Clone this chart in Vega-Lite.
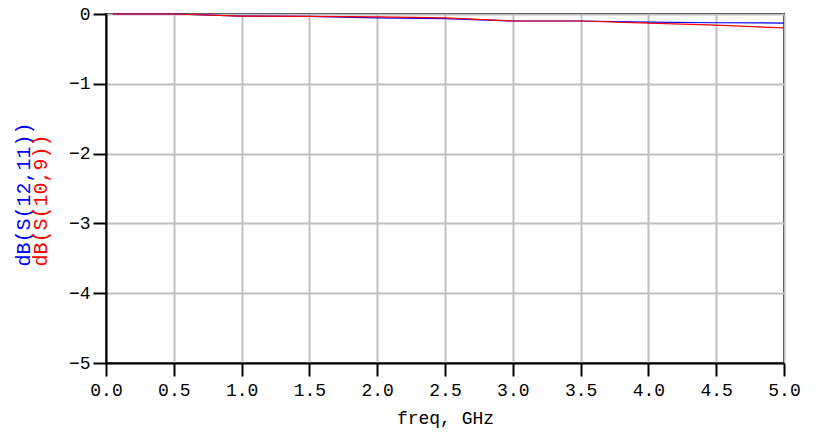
{
  "$schema": "https://vega.github.io/schema/vega-lite/v6.json",
  "autosize": "none",
  "width": 678,
  "height": 349,
  "padding": {"left": 106, "top": 14, "right": 37, "bottom": 76},
  "background": "white",
  "config": {
    "view": {"stroke": "#000000", "strokeWidth": 2},
    "font": "Liberation Mono",
    "axis": {
      "labelFont": "Liberation Mono",
      "titleFont": "Liberation Mono",
      "labelFontSize": 18,
      "titleFontSize": 18,
      "labelColor": "#000000",
      "titleColor": "#000000",
      "titleFontWeight": "normal",
      "labelFlush": false,
      "domainColor": "#000000",
      "domainWidth": 2,
      "tickColor": "#000000",
      "tickWidth": 2,
      "tickSize": 13,
      "gridColor": "#c0c0c0",
      "gridWidth": 2,
      "gridOpacity": 1
    }
  },
  "data": {
    "values": [
      {"freq": 0.05, "db": 0.0, "trace": "dB(S(12,11))"},
      {"freq": 0.5, "db": 0.0, "trace": "dB(S(12,11))"},
      {"freq": 1.0, "db": -0.03, "trace": "dB(S(12,11))"},
      {"freq": 1.5, "db": -0.035, "trace": "dB(S(12,11))"},
      {"freq": 2.0, "db": -0.055, "trace": "dB(S(12,11))"},
      {"freq": 2.5, "db": -0.065, "trace": "dB(S(12,11))"},
      {"freq": 3.0, "db": -0.1, "trace": "dB(S(12,11))"},
      {"freq": 3.5, "db": -0.1, "trace": "dB(S(12,11))"},
      {"freq": 4.0, "db": -0.115, "trace": "dB(S(12,11))"},
      {"freq": 4.5, "db": -0.125, "trace": "dB(S(12,11))"},
      {"freq": 5.0, "db": -0.13, "trace": "dB(S(12,11))"},
      {"freq": 0.05, "db": 0.0, "trace": "dB(S(10,9))"},
      {"freq": 0.5, "db": 0.0, "trace": "dB(S(10,9))"},
      {"freq": 1.0, "db": -0.03, "trace": "dB(S(10,9))"},
      {"freq": 1.5, "db": -0.035, "trace": "dB(S(10,9))"},
      {"freq": 2.0, "db": -0.04, "trace": "dB(S(10,9))"},
      {"freq": 2.5, "db": -0.055, "trace": "dB(S(10,9))"},
      {"freq": 3.0, "db": -0.1, "trace": "dB(S(10,9))"},
      {"freq": 3.5, "db": -0.1, "trace": "dB(S(10,9))"},
      {"freq": 4.0, "db": -0.13, "trace": "dB(S(10,9))"},
      {"freq": 4.5, "db": -0.16, "trace": "dB(S(10,9))"},
      {"freq": 5.0, "db": -0.2, "trace": "dB(S(10,9))"}
    ]
  },
  "encoding": {
    "x": {
      "field": "freq",
      "type": "quantitative",
      "scale": {"domain": [0, 5], "nice": false, "zero": false},
      "axis": {
        "title": "freq, GHz",
        "values": [0, 0.5, 1, 1.5, 2, 2.5, 3, 3.5, 4, 4.5, 5],
        "format": ".1f",
        "labelPadding": 5,
        "titlePadding": 10
      }
    }
  },
  "layer": [
    {
      "transform": [{"filter": "datum.trace === 'dB(S(12,11))'"}],
      "mark": {"type": "line", "color": "#0000ff", "strokeWidth": 1.2},
      "encoding": {
        "y": {
          "field": "db",
          "type": "quantitative",
          "scale": {"domain": [-5, 0], "nice": false},
          "axis": {
            "title": "dB(S(12,11))",
            "titleColor": "#0000ff",
            "titleFontSize": 20,
            "values": [-5, -4, -3, -2, -1, 0],
            "format": "d",
            "labelPadding": 3,
            "titleAngle": -90,
            "titleAlign": "left",
            "titleBaseline": "middle",
            "titleX": -83,
            "titleY": 252
          }
        }
      }
    },
    {
      "transform": [{"filter": "datum.trace === 'dB(S(10,9))'"}],
      "mark": {"type": "line", "color": "#ff0000", "strokeWidth": 1.2},
      "encoding": {
        "y": {
          "field": "db",
          "type": "quantitative",
          "scale": {"domain": [-5, 0], "nice": false},
          "axis": {
            "orient": "left",
            "title": "dB(S(10,9))",
            "titleColor": "#ff0000",
            "titleFontSize": 20,
            "labels": false,
            "ticks": false,
            "domain": false,
            "grid": false,
            "titleAngle": -90,
            "titleAlign": "left",
            "titleBaseline": "middle",
            "titleX": -66,
            "titleY": 252
          }
        }
      }
    }
  ],
  "resolve": {"axis": {"y": "independent"}}
}
